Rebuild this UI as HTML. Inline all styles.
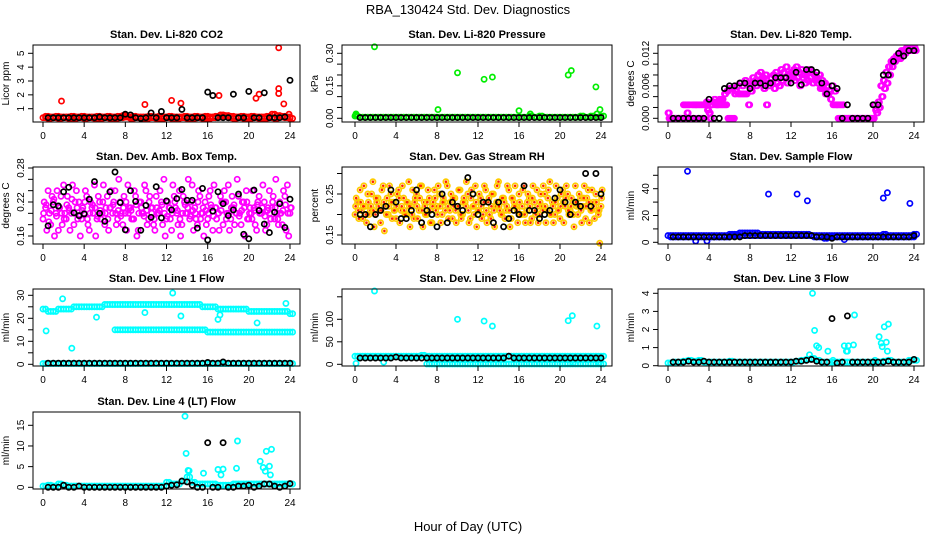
<!DOCTYPE html>
<html><head><meta charset="utf-8"><style>
body{margin:0;background:#fff;}
svg{display:block;font-family:"Liberation Sans",Arial,sans-serif;}
</style></head><body>
<svg id="chart" width="936" height="540" viewBox="0 0 936 540" xmlns="http://www.w3.org/2000/svg">
<rect width="936" height="540" fill="#fff"/>
<text x="468" y="14" text-anchor="middle" font-size="13">RBA_130424  Std. Dev. Diagnostics</text>
<text x="468" y="531" text-anchor="middle" font-size="13">Hour of Day (UTC)</text>
</svg>
<script>
// ---- data (y values; base series at fixed hourly steps) ----
const xTicks=[0,4,8,12,16,20,24];
// CO2
const co2RedA=[0.35,0.3,0.35,0.3,0.35,0.3,0.3,0.35,0.3,0.35,0.3,0.3,0.35,0.3,0.3,0.35,0.4,0.3,0.35,0.3,0.3,0.35,0.3,0.3,0.35,0.3,0.3,0.35,0.3,0.3,0.35,0.3,0.3,0.35,0.4,0.45,0.35,0.3,0.35,0.3,0.3,0.35,0.3,0.3,0.35,0.3,0.4,0.35,0.3];
const co2RedB=[0.45,0.4,0.45,0.4,0.4,0.45,0.4,0.45,0.4,0.4,0.45,0.4,0.45,0.4,0.45,0.5,0.4,0.45,0.4,0.4,0.45,0.4,0.45,0.4,0.45,0.4,0.4,0.45,0.4,0.45,0.4,0.45,0.4,0.45,0.55,0.5,0.45,0.4,0.45,0.4,0.45,0.4,0.4,0.45,0.6,0.5,0.45,0.4];
const co2RedOutX=[1.8,9.9,12.5,13.4,17.1,20.7,21.0,22.9,22.9,22.9,23.4,23.9];
const co2RedOutY=[1.55,1.3,1.6,1.4,1.95,1.75,2.05,2.1,2.45,5.4,1.35,0.6];
const co2Black=[0.35,0.35,0.35,0.35,0.35,0.35,0.35,0.35,0.35,0.35,0.4,0.35,0.35,0.35,0.35,0.6,0.55,0.35,0.3,0.35,0.7,0.35,0.8,0.35,0.35,0.35,0.95,0.35,0.35,0.35,0.35,2.2,1.95,0.35,0.35,0.35,2.05,0.35,0.35,2.25,0.35,0.35,2.15,0.35,0.35,0.35,0.4,3.05];
// Pressure
const presGreen=[0.01,0.005,0.005,0.005,0.005,0.005,0.005,0.005,0.005,0.005,0.005,0.005,0.005,0.005,0.005,0.005,0.005,0.005,0.005,0.005,0.005,0.005,0.005,0.005,0.005,0.005,0.005,0.005,0.005,0.005,0.005,0.005,0.005,0.005,0.01,0.005,0.01,0.005,0.005,0.005,0.005,0.005,0.005,0.005,0.01,0.005,0.01,0.005,0.01];
const presOutX=[0.1,0.1,1.9,8.1,10,12.6,13.4,16,17.1,20.8,21.1,23.5,23.6,23.9];
const presOutY=[0.02,0.015,0.33,0.04,0.21,0.18,0.19,0.035,0.02,0.2,0.22,0.145,0.02,0.04];
const presBlack=[0.003,0.003,0.003,0.003,0.003,0.003,0.003,0.003,0.003,0.003,0.003,0.003,0.003,0.003,0.003,0.003,0.003,0.003,0.003,0.003,0.003,0.003,0.003,0.003,0.003,0.003,0.003,0.003,0.003,0.003,0.003,0.003,0.003,0.003,0.003,0.003,0.003,0.003,0.003,0.003,0.003,0.003,0.003,0.003,0.003,0.003,0.003,0.003];
// Li-820 Temp
const tempMagA=[0.001,0,0,0,0,0,0.0025,0.0025,0.0025,0,0,0.0025,0.0025,0.0025,0.0025,0.003,0.001,0.0025,0.0035,0.0025,0.0035,0.0035,0.0045,0.005,0.0055,0.0055,0.0045,0.006,0.0065,0.006,0.007,0.0065,0.006,0.0075,0.007,0.008,0.0085,0.0075,0.008,0.0065,0.0075,0.008,0.0085,0.0075,0.009,0.0085,0.0095,0.008,0.0085,0.009,0.0095,0.0085,0.009,0.008,0.0085,0.009,0.0085,0.008,0.0075,0.008,0.007,0.0065,0.006,0.005,0.006,0.005,0.0025,0.0025,0.0025,0,0,0,0,0,0,0,0,0,0,0,0,0.0015,0.003,0.006,0.007,0.0085,0.0095,0.0105,0.011,0.0115,0.012,0.0125,0.0125,0.013,0.013,0.013,0.013];
const tempMagB=[0,0,0,0,0,0,0,0.001,0,0.0025,0.0025,0,0,0,0.0025,0.0015,0,0.003,0.0025,0.0025,0.0025,0.0025,0.0025,0,0,0,0.005,0.0045,0.0045,0.0045,0.0045,0.0025,0.005,0.0065,0.006,0.0065,0.007,0.0055,0.0025,0.006,0.0065,0.0055,0.0065,0.006,0.007,0.0075,0.0065,0.0075,0.0075,0.007,0.0075,0.006,0.0075,0.0065,0.007,0.0075,0.0065,0.007,0.0065,0.0055,0.0055,0.0045,0.0045,0.0035,0.0025,0.0025,0,0,0,0,0,0,0,0,0,0,0,0,0,0,0.0025,0.001,0.002,0.004,0.0055,0.0065,0.008,0.0095,0.0105,0.011,0.011,0.012,0.012,0.0125,0.0125,0.0125,0.0125];
const tempBlack=[0,0,0,0,0,0,0,0.0035,0,0,0.0055,0.006,0.006,0.0065,0.0065,0.0055,0.0065,0.0065,0.006,0.0065,0.0075,0.0075,0.0075,0.0065,0.0085,0.0062,0.009,0.009,0.0085,0.0065,0.0045,0.006,0.0055,0,0.0025,0,0,0,0,0.0025,0.0025,0.008,0.008,0.0105,0.012,0.0115,0.0125,0.0125];
// Amb box temp
const ambMagA=[0.19,0.21,0.24,0.18,0.22,0.2,0.17,0.23,0.25,0.19,0.21,0.2,0.18,0.24,0.22,0.19,0.2,0.23,0.17,0.21,0.25,0.19,0.22,0.2,0.18,0.23,0.21,0.2,0.24,0.19,0.22,0.18,0.2,0.25,0.21,0.19,0.23,0.17,0.22,0.2,0.24,0.19,0.21,0.18,0.23,0.2,0.22,0.26,0.19,0.21,0.17,0.23,0.2,0.24,0.18,0.22,0.2,0.19,0.25,0.21,0.18,0.23,0.2,0.22,0.19,0.24,0.17,0.21,0.2,0.23,0.18,0.22,0.25,0.19,0.21,0.2,0.23,0.18,0.22,0.24,0.19,0.2,0.21,0.17,0.23,0.2,0.22,0.18,0.24,0.21,0.19,0.2,0.22,0.18,0.23,0.25,0.2];
const ambMagB=[0.22,0.17,0.2,0.23,0.16,0.24,0.21,0.18,0.2,0.23,0.17,0.25,0.22,0.19,0.16,0.21,0.24,0.18,0.22,0.2,0.16,0.23,0.19,0.25,0.21,0.17,0.24,0.22,0.18,0.26,0.2,0.23,0.17,0.21,0.19,0.24,0.16,0.22,0.2,0.25,0.18,0.23,0.21,0.17,0.2,0.24,0.18,0.16,0.22,0.19,0.25,0.21,0.18,0.16,0.23,0.2,0.26,0.22,0.17,0.19,0.24,0.2,0.16,0.18,0.23,0.21,0.25,0.19,0.17,0.22,0.24,0.2,0.17,0.23,0.18,0.26,0.2,0.22,0.16,0.19,0.21,0.24,0.18,0.22,0.2,0.25,0.17,0.21,0.19,0.23,0.26,0.18,0.2,0.24,0.17,0.16,0.21];
const ambMagC=[0.2,0.215,0.185,0.205,0.225,0.195,0.21,0.2,0.19,0.215,0.205,0.225,0.2,0.21,0.195,0.205,0.22,0.19,0.2,0.215,0.21,0.195,0.205,0.22,0.2,0.19,0.21,0.215,0.2,0.205,0.195,0.21,0.22,0.2,0.205,0.19,0.215,0.2,0.21,0.195,0.205,0.22,0.2,0.19,0.21,0.205,0.215,0.2,0.195,0.21,0.2,0.22,0.205,0.19,0.2,0.215,0.21,0.195,0.205,0.2,0.22,0.19,0.21,0.205,0.2,0.215,0.195,0.21,0.2,0.205,0.22,0.19,0.2,0.21,0.215,0.2,0.195,0.205,0.21,0.22,0.2,0.19,0.205,0.215,0.2,0.21,0.195,0.205,0.2,0.22,0.21,0.19,0.2,0.205,0.215,0.2,0.21];
const ambBlack=[0.178,0.215,0.213,0.238,0.246,0.201,0.196,0.199,0.225,0.256,0.2,0.186,0.238,0.273,0.219,0.171,0.24,0.221,0.17,0.214,0.193,0.247,0.192,0.222,0.206,0.226,0.242,0.223,0.223,0.174,0.244,0.153,0.204,0.238,0.217,0.196,0.206,0.234,0.163,0.155,0.241,0.205,0.181,0.166,0.202,0.217,0.175,0.225];
// Gas stream RH
const rhYelA=[0.2,0.23,0.26,0.19,0.22,0.25,0.21,0.28,0.2,0.24,0.18,0.27,0.22,0.2,0.25,0.23,0.19,0.26,0.21,0.24,0.2,0.28,0.22,0.19,0.25,0.21,0.27,0.23,0.2,0.24,0.18,0.26,0.22,0.25,0.2,0.23,0.27,0.21,0.19,0.24,0.22,0.26,0.2,0.23,0.25,0.19,0.22,0.27,0.21,0.24,0.2,0.26,0.23,0.19,0.25,0.22,0.28,0.2,0.24,0.21,0.26,0.19,0.23,0.22,0.25,0.2,0.27,0.21,0.24,0.19,0.23,0.26,0.2,0.22,0.25,0.21,0.28,0.23,0.2,0.24,0.19,0.26,0.22,0.25,0.21,0.23,0.27,0.2,0.24,0.22,0.19,0.26,0.21,0.23,0.25,0.2,0.22];
const rhYelB=[0.24,0.19,0.21,0.27,0.18,0.2,0.25,0.17,0.23,0.21,0.26,0.16,0.24,0.27,0.19,0.21,0.25,0.18,0.27,0.2,0.23,0.17,0.26,0.24,0.19,0.27,0.17,0.2,0.26,0.18,0.23,0.21,0.27,0.18,0.24,0.28,0.19,0.25,0.22,0.18,0.26,0.19,0.24,0.28,0.18,0.26,0.2,0.17,0.25,0.19,0.27,0.18,0.2,0.25,0.17,0.27,0.21,0.24,0.19,0.27,0.17,0.24,0.27,0.18,0.2,0.26,0.18,0.25,0.18,0.27,0.2,0.18,0.25,0.27,0.18,0.26,0.2,0.18,0.27,0.21,0.25,0.18,0.27,0.2,0.24,0.17,0.22,0.25,0.18,0.27,0.24,0.18,0.26,0.19,0.21,0.13,0.26];
const rhYelC=[0.22,0.21,0.23,0.22,0.2,0.23,0.22,0.21,0.24,0.22,0.21,0.23,0.2,0.22,0.23,0.21,0.22,0.24,0.22,0.21,0.23,0.22,0.2,0.23,0.22,0.24,0.21,0.22,0.23,0.21,0.22,0.24,0.2,0.22,0.23,0.21,0.22,0.23,0.24,0.21,0.22,0.2,0.23,0.22,0.21,0.24,0.22,0.23,0.21,0.22,0.23,0.21,0.24,0.22,0.21,0.23,0.22,0.2,0.23,0.22,0.21,0.24,0.22,0.21,0.23,0.22,0.2,0.23,0.22,0.24,0.21,0.22,0.23,0.21,0.22,0.24,0.2,0.22,0.23,0.21,0.22,0.23,0.24,0.21,0.22,0.2,0.23,0.22,0.21,0.24,0.22,0.23,0.21,0.22,0.23,0.21,0.24];
const rhBlack=[0.2,0.2,0.17,0.2,0.21,0.22,0.26,0.23,0.19,0.19,0.21,0.26,0.18,0.21,0.2,0.17,0.25,0.18,0.23,0.22,0.21,0.29,0.25,0.2,0.23,0.23,0.18,0.23,0.17,0.19,0.21,0.2,0.27,0.21,0.21,0.19,0.2,0.21,0.24,0.26,0.23,0.2,0.23,0.22,0.3,0.22,0.3,0.25];
// Sample flow
const sfBlueA=[5,5,5,5,5,5,5,5,5,5,5,5,6,6,7,7,7,7,6,6,6,6,6,6,6,6,6,6,5,5,5,5,5,5,5,5,5,5,5,5,5,5,6,5,5,5,5,5,6];
const sfBlueB=[4,4,4,4,4,4,4,4,4,4,4,4,5,5,5,5,5,5,5,5,5,5,5,5,5,5,5,5,4,4,3,4,4,4,4,4,4,4,4,4,4,4,4,4,4,4,4,4];
const sfOutX=[1.9,2.7,3.8,9.8,12.6,13.6,17.2,21.0,21.4,23.6];
const sfOutY=[53,1,1,36,36,31,2,33,37,29];
const sfBlack=[4,4,4,4,4,4,4,4,4,4,4,4,4,4,5,5,5,5,5,5,5,5,5,5,5,5,5,5,4,4,4,3,4,4,4,4,4,4,4,4,4,4,4,4,4,4,4,5];
// Line 1 flow
const l1Top=[24,23,23,24,24,24,25,25,25,25,25,25,26,26,26,26,26,26,26,26,26,26,26,26,26,26,26,26,26,26,26,25,25,25,24,24,24,24,24,24,23,23,23,23,23,23,23,23,22];
const l1Mid=[15,15,15,15,15,15,15,15,15,15,15,15,15,15,15,15,15,15,14,14,14,14,14,14,14,14,14,14,14,14,14,14,14,14,14];
const l1Zero=[0.3,0.3,0.3,0.3,0.3,0.3,0.3,0.3,0.3,0.3,0.3,0.3,0.3,0.3,0.3,0.3,0.3,0.3,0.3,0.3,0.3,0.3,0.3,0.3,0.3,0.3,0.3,0.3,0.3,0.3,0.3,0.3,0.3,0.3,0.3,0.3,0.3,0.3,0.3,0.3,0.3,0.3,0.3,0.3,0.3,0.3,0.3,0.3,0.3];
const l1OutX=[0.3,1.9,2.8,5.2,9.9,12.6,13.4,17,17.2,20.8,23.6];
const l1OutY=[14.5,28.5,7,20.5,22.5,31,21,19.5,21.5,18,26.5];
const l1Black=[0.5,0.5,0.5,0.5,0.5,0.5,0.5,0.5,0.5,0.5,0.5,0.5,0.5,0.5,0.5,0.5,0.5,0.5,0.5,0.5,0.5,0.5,0.5,0.5,0.5,0.5,0.5,0.5,0.5,0.5,0.5,0.8,0.5,0.5,1,0.5,0.5,0.5,0.5,0.5,0.5,0.5,0.5,0.5,0.5,0.5,0.5,0.5];
// Line 2 flow
const l2Band=[18,18,18,18,18,18,18,18,18,18,18,18,18,20,18,18,18,18,18,18,18,18,18,18,18,18,18,18,18,18,18,18,18,18,18,18,18,18,18,18,18,18,18,18,18,18,18,18,18];
const l2Zero=[1,1,1,1,1,1,1,1,1,1,1,1,1,1,1,1,1,1,1,1,1,1,1,1,1,1,1,1,1,1,1,1,1,1,1];
const l2OutX=[0.1,1.9,2.8,10,12.6,13.4,20.8,21.2,21.3,23.6,23.8];
const l2OutY=[2,163,5,100,96,85,97,108,3,85,3];
const l2Black=[14,14,14,14,14,14,14,16,14,14,14,14,14,14,14,14,14,14,14,14,14,14,14,14,14,14,14,14,14,18,14,14,14,14,14,14,14,14,14,14,14,14,14,14,14,14,14,14];
// Line 3 flow
const l3Base=[0.15,0.2,0.2,0.25,0.3,0.25,0.3,0.2,0.2,0.2,0.2,0.2,0.25,0.2,0.2,0.2,0.2,0.2,0.2,0.2,0.2,0.2,0.2,0.2,0.2,0.25,0.3,0.35,0.4,0.3,0.2,0.2,0.2,0.2,0.2,0.2,0.2,0.2,0.2,0.2,0.2,0.2,0.25,0.3,0.2,0.2,0.2,0.3,0.3];
const l3OutX=[13.8,14.1,14.3,14.5,14.7,15.6,16.1,17.2,17.4,17.5,17.6,18.1,18.2,20.2,20.6,20.8,20.9,21.1,21.3,21.4,21.5];
const l3OutY=[0.6,4.0,1.95,1.1,1.0,0.8,0.3,1.1,0.8,0.8,1.1,1.15,2.8,0.3,1.6,1.25,1.05,2.15,1.3,0.8,2.3];
const l3Black=[0.2,0.2,0.2,0.25,0.2,0.2,0.25,0.2,0.2,0.2,0.2,0.2,0.2,0.2,0.2,0.2,0.2,0.2,0.2,0.2,0.2,0.2,0.2,0.2,0.25,0.25,0.3,0.35,0.25,0.2,0.2,2.6,0.15,0.2,2.75,0.2,0.2,0.2,0.2,0.2,0.2,0.2,0.25,0.2,0.2,0.2,0.2,0.35];
// Line 4 flow
const l4Base=[0.3,0.5,0.3,0.8,0.5,0.3,0.3,0.3,0.3,0.3,0.3,0.3,0.3,0.3,0.3,0.3,0.3,0.3,0.3,0.3,0.3,0.3,0.3,0.3,1.2,0.8,0.8,1.5,2.5,1.2,0.8,0.8,0.8,0.8,0.5,0.5,0.5,0.8,0.8,0.8,0.8,0.8,0.8,0.8,0.8,0.8,0.8,0.8,0.8];
const l4OutX=[13.8,13.9,14.1,14.2,15.6,17.0,17.3,17.5,18.8,18.9,21.1,21.4,21.6,21.7,22.0,22.1,22.2];
const l4OutY=[17.2,8.2,4.1,4.0,3.4,4.3,3.0,4.4,4.6,11.2,6.3,4.8,3.9,8.7,5.1,3.0,9.2];
const l4Black=[0,0,0,0.5,0,0,0.3,0,0,0,0,0,0,0,0,0,0,0,0,0,0,0,0,0.3,0.5,0.6,1.5,1.3,0.5,0,0,10.8,0,0,10.8,0,0,0.3,0.3,0.5,0,0.3,0.8,0.8,0.3,0,0.3,0.9];

// ---- layout ----
const cols=[{bx0:33,bx1:300,x0:43,x1:290},{bx0:342,bx1:612,x0:355,x1:601},{bx0:658,bx1:924,x0:668,x1:914}];
const rowTops=[45,167,289,412];
const BH=77;
const svg=document.getElementById('chart');
const NS='http://www.w3.org/2000/svg';
function el(tag,attrs,parent){const e=document.createElementNS(NS,tag);for(const k in attrs)e.setAttribute(k,attrs[k]);(parent||svg).appendChild(e);return e;}
function seq(start,step,n){const a=[];for(let i=0;i<n;i++)a.push(start+step*i);return a;}

const panels=[
 {name:'co2',title:'Stan. Dev. Li-820 CO2',ylab:'Licor ppm',c:0,r:0,v1:1,p1:108.7,v2:5,p2:53.3,ticks:[1,2,3,4,5],labels:['1','2','3','4','5'],
  series:[{y:co2RedA,x0:0,st:0.5,col:'#ff0000',dense:true},{y:co2RedB,x0:0.25,st:0.5,col:'#ff0000',dense:true},{y:co2RedOutY,xs:co2RedOutX,col:'#ff0000'},{y:co2Black,x0:0.5,st:0.5,col:'#000'}]},
 {name:'pressure',title:'Stan. Dev. Li-820 Pressure',ylab:'kPa',c:1,r:0,v1:0,p1:118.3,v2:0.3,p2:53.3,ticks:[0,0.05,0.1,0.15,0.2,0.25,0.3],labels:['0.00','','','0.15','','','0.30'],
  series:[{y:presGreen,x0:0,st:0.5,col:'#00ee00',dense:true},{y:presOutY,xs:presOutX,col:'#00ee00'},{y:presBlack,x0:0.5,st:0.5,col:'#000'}]},
 {name:'li820-temp',title:'Stan. Dev. Li-820 Temp.',ylab:'degrees C',c:2,r:0,v1:0,p1:118.3,v2:0.012,p2:53.3,ticks:[0,0.002,0.004,0.006,0.008,0.01,0.012],labels:['0.000','','','0.006','','','0.012'],
  series:[{y:tempMagA,x0:0,st:0.25,col:'#ff00ff',dense:true},{y:tempMagB,x0:0.1,st:0.25,col:'#ff00ff',dense:true},{y:tempBlack,x0:0.5,st:0.5,col:'#000'}]},
 {name:'amb-box-temp',title:'Stan. Dev. Amb. Box Temp.',ylab:'degrees C',c:0,r:1,v1:0.16,p1:236,v2:0.28,p2:168,ticks:[0.16,0.18,0.2,0.22,0.24,0.26,0.28],labels:['0.16','','','0.22','','','0.28'],
  series:[{y:ambMagA,x0:0,st:0.25,col:'#ff00ff'},{y:ambMagB,x0:0.12,st:0.25,col:'#ff00ff'},{y:ambMagC,x0:0.06,st:0.25,col:'#ff00ff'},{y:ambBlack,x0:0.5,st:0.5,col:'#000'}]},
 {name:'gas-stream-rh',title:'Stan. Dev. Gas Stream RH',ylab:'percent',c:1,r:1,v1:0.15,p1:235,v2:0.25,p2:194,ticks:[0.15,0.2,0.25,0.3],labels:['0.15','','0.25',''],
  series:[{y:rhYelA,x0:0,st:0.25,col:'#ffcc00',dot:true},{y:rhYelB,x0:0.12,st:0.25,col:'#ffcc00',dot:true},{y:rhYelC,x0:0.06,st:0.25,col:'#ffcc00',dot:true},{y:rhBlack,x0:0.5,st:0.5,col:'#000'}]},
 {name:'sample-flow',title:'Stan. Dev. Sample Flow',ylab:'ml/min',c:2,r:1,v1:0,p1:242.3,v2:40,p2:188.7,ticks:[0,10,20,30,40,50],labels:['0','','20','','40',''],
  series:[{y:sfBlueA,x0:0,st:0.5,col:'#0000ff',dense:true},{y:sfBlueB,x0:0.25,st:0.5,col:'#0000ff',dense:true},{y:sfOutY,xs:sfOutX,col:'#0000ff'},{y:sfBlack,x0:0.5,st:0.5,col:'#000'}]},
 {name:'line1-flow',title:'Stan. Dev. Line 1 Flow',ylab:'ml/min',c:0,r:2,v1:0,p1:364.3,v2:30,p2:295.3,ticks:[0,5,10,15,20,25,30],labels:['0','','10','','20','','30'],
  series:[{y:l1Top,x0:0,st:0.5,col:'#00ffff',dense:true},{y:l1Mid,x0:7,st:0.5,col:'#00ffff',dense:true},{y:l1Zero,x0:0,st:0.5,col:'#00ffff',dense:true},{y:l1OutY,xs:l1OutX,col:'#00ffff'},{y:l1Black,x0:0.5,st:0.5,col:'#000'}]},
 {name:'line2-flow',title:'Stan. Dev. Line 2 Flow',ylab:'ml/min',c:1,r:2,v1:0,p1:364.3,v2:100,p2:319.3,ticks:[0,50,100,150],labels:['0','50','100',''],
  series:[{y:l2Band,x0:0,st:0.5,col:'#00ffff',dense:true},{y:l2Zero,x0:7,st:0.5,col:'#00ffff',dense:true},{y:l2OutY,xs:l2OutX,col:'#00ffff'},{y:l2Black,x0:0.5,st:0.5,col:'#000'}]},
 {name:'line3-flow',title:'Stan. Dev. Line 3 Flow',ylab:'ml/min',c:2,r:2,v1:0,p1:365.7,v2:4,p2:293.3,ticks:[0,1,2,3,4],labels:['0','1','2','3','4'],
  series:[{y:l3Base,x0:0,st:0.5,col:'#00ffff',dense:true},{y:l3OutY,xs:l3OutX,col:'#00ffff'},{y:l3Black,x0:0.5,st:0.5,col:'#000'}]},
 {name:'line4-flow',title:'Stan. Dev. Line 4 (LT) Flow',ylab:'ml/min',c:0,r:3,v1:0,p1:487.3,v2:15,p2:425.3,ticks:[0,5,10,15],labels:['0','5','10','15'],
  series:[{y:l4Base,x0:0,st:0.5,col:'#00ffff',dense:true},{y:l4OutY,xs:l4OutX,col:'#00ffff'},{y:l4Black,x0:0.5,st:0.5,col:'#000'}]}
];

panels.forEach(p=>{
  const c=cols[p.c], top=rowTops[p.r], bot=top+BH;
  const xs=v=>c.x0+(c.x1-c.x0)*v/24;
  const ys=v=>p.p1+(p.p2-p.p1)*(v-p.v1)/(p.v2-p.v1);
  const g=el('g',{});
  
  
  const t=el('text',{x:(c.bx0+c.bx1)/2,y:top-7,'text-anchor':'middle','font-size':'11','font-weight':'bold'},g);
  t.textContent=p.title;
  
  
  const pg=el('g',{fill:'none','stroke-width':'1.7'},g);
  
  
  p.series.forEach(s=>{
    const xv=s.xs?s.xs:seq(s.x0,s.st,s.y.length);
    s.y.forEach((v,i)=>{
      const cx=xs(xv[i]), cy=ys(v);
      const m=el('circle',{cx:cx.toFixed(1),cy:cy.toFixed(1),r:'2.6',stroke:s.col},pg);
      
      
      if(s.dense){
        // visually fill the gap to the next sample (same value)
        const m2=el('circle',{cx:(cx+(xs(s.st)-xs(0))/2).toFixed(1),cy:cy.toFixed(1),r:'2.6',stroke:s.col},pg);
        
        
      }
      if(s.dot){el('circle',{cx:cx.toFixed(1),cy:cy.toFixed(1),r:'1.3',fill:'#ff2200',stroke:'none'},pg);}
    });
  });
  const b=el('rect',{x:c.bx0,y:top,width:c.bx1-c.bx0,height:BH,fill:'none',stroke:'#000','stroke-width':'1'},g);
  
  
  const xa=el('g',{stroke:'#000','stroke-width':'1'},g);
  
  
  el('line',{x1:xs(0),x2:xs(24),y1:bot,y2:bot},xa);
  xTicks.forEach(v=>{
    el('line',{x1:xs(v),x2:xs(v),y1:bot,y2:bot+5},xa);
    const tl=el('text',{x:xs(v),y:bot+17,'text-anchor':'middle','font-size':'10',stroke:'none',fill:'#000'},xa);
    tl.textContent=v;
  });
  const ya=el('g',{stroke:'#000','stroke-width':'1'},g);
  
  
  const tv=p.ticks;
  el('line',{x1:c.bx0,x2:c.bx0,y1:ys(tv[0]),y2:ys(tv[tv.length-1])},ya);
  tv.forEach((v,i)=>{
    el('line',{x1:c.bx0-5,x2:c.bx0,y1:ys(v),y2:ys(v)},ya);
    if(p.labels[i]){
      const lx=c.bx0-9, ly=ys(v);
      const tl=el('text',{x:lx,y:ly,'text-anchor':'middle','font-size':'10',stroke:'none',fill:'#000',transform:`rotate(-90 ${lx} ${ly})`},ya);
      tl.textContent=p.labels[i];
    }
  });
  const yl=el('text',{x:c.bx0-24,y:top+BH/2,'text-anchor':'middle','font-size':'10',transform:`rotate(-90 ${c.bx0-24} ${top+BH/2})`},g);
  yl.textContent=p.ylab;
  
  
});
</script>
</body></html>
